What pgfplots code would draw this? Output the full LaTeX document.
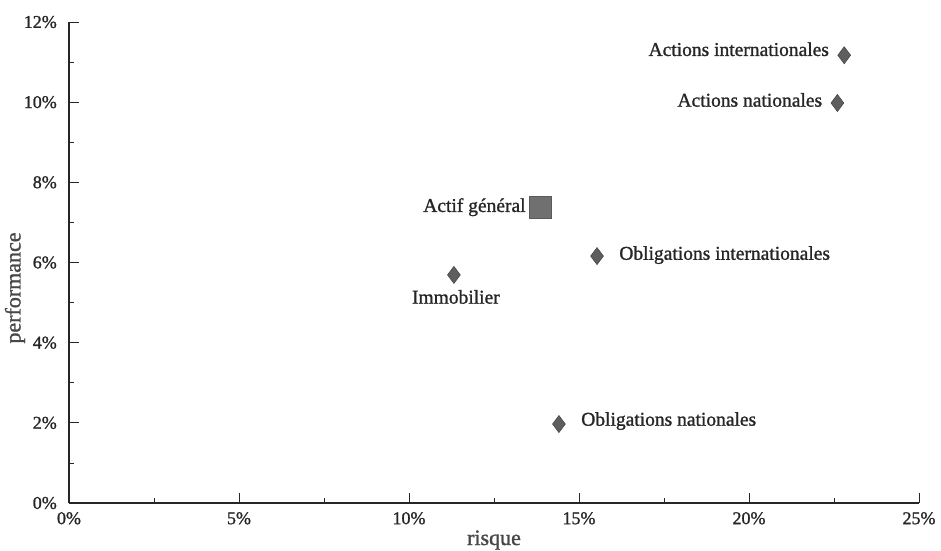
\documentclass[border=0pt]{standalone}
\usepackage{fontspec}
\setmainfont{Liberation Serif}[BoldFont=Liberation Serif, BoldFeatures={FakeBold=1.2}]
\usepackage{pgfplots}
\pgfplotsset{compat=1.18}
\definecolor{mk}{HTML}{5E5E5E}
\definecolor{mkd}{HTML}{474747}
\definecolor{sq}{HTML}{707070}
\definecolor{sqd}{HTML}{5A5A5A}
\definecolor{tx}{HTML}{262626}
\begin{document}
\begin{tikzpicture}[x=1pt,y=1pt]
\path[use as bounding box] (-69,-47) rectangle (872,503);
\begin{axis}[
  at={(0,0)}, anchor=south west,
  scale only axis, width=850pt, height=481pt,
  xmin=0, xmax=25, ymin=0, ymax=12,
  enlargelimits=false,
  axis lines*=left,
  axis line style={-, line width=1.8pt, tx},
  xtick={0,5,...,25}, ytick={0,2,...,12},
  minor x tick num=1, minor y tick num=1,
  tick align=inside,
  major tick length=10pt, minor tick length=5pt,
  tick style={tx, line width=0.8pt},
  /pgf/number format/assume math mode=true,
  xticklabel={\pgfmathprintnumber{\tick}\%},
  yticklabel={\pgfmathprintnumber{\tick}\%},
  tick label style={font=\fontsize{18}{20}\selectfont\bfseries, text=tx},
  xticklabel style={anchor=north, inner sep=0pt, yshift=-9pt},
  yticklabel style={anchor=east, inner sep=0pt, xshift=-12pt},
  xlabel={risque}, ylabel={performance},
  label style={font=\fontsize{22}{24}\selectfont\bfseries, text=tx!85},
  xlabel style={at={(axis description cs:0.5,0)}, anchor=base, yshift=-42pt},
  ylabel style={at={(axis description cs:-0.0635,0.447)}, anchor=center},
  clip=false,
  every node near coord/.style={font=\fontsize{19.5}{22}\selectfont\bfseries, text=tx, inner sep=0pt},
  dia/.style={only marks, mark=diamond*, mark size=8.5pt, mark options={fill=mk, draw=mkd, line width=0.6pt}},
]
\addplot[dia, nodes near coords={Actions internationales},
  nodes near coords style={anchor=east, xshift=-15pt, yshift=6pt}] coordinates {(22.8,11.17)};
\addplot[dia, nodes near coords={Actions nationales},
  nodes near coords style={anchor=east, xshift=-15pt, yshift=3pt}] coordinates {(22.6,9.98)};
\addplot[dia, nodes near coords={Obligations internationales},
  nodes near coords style={anchor=west, xshift=22pt, yshift=1pt}] coordinates {(15.53,6.16)};
\addplot[dia, nodes near coords={Immobilier},
  nodes near coords style={anchor=center, xshift=2pt, yshift=-22pt}] coordinates {(11.32,5.69)};
\addplot[dia, nodes near coords={Obligations nationales},
  nodes near coords style={anchor=west, xshift=22pt, yshift=3pt}] coordinates {(14.41,1.97)};
\addplot[only marks, mark=square*, mark size=11pt, mark options={fill=sq, draw=sqd, line width=0.6pt},
  nodes near coords={Actif général},
  nodes near coords style={anchor=east, xshift=-14pt, yshift=0pt}] coordinates {(13.85,7.38)};
\end{axis}
\end{tikzpicture}
\end{document}
